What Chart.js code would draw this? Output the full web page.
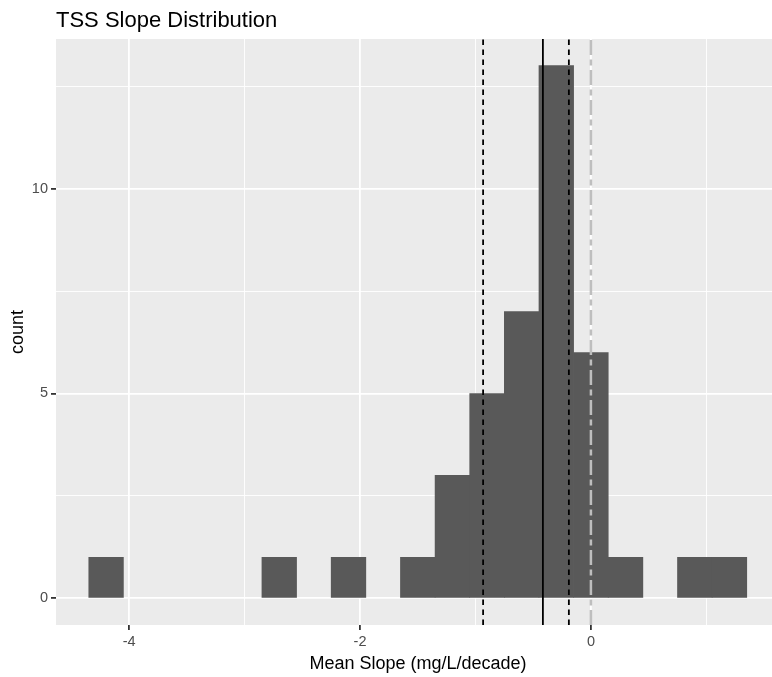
<!DOCTYPE html>
<html>
<head>
<meta charset="utf-8">
<title>TSS Slope Distribution</title>
<script src="https://cdn.jsdelivr.net/npm/chart.js@4.4.1/dist/chart.umd.min.js"></script>
<style>
  html, body { margin: 0; padding: 0; background: #fff; overflow: hidden; }
  #wrap { width: 772px; height: 677px; overflow: hidden; }
</style>
</head>
<body>
<div id="wrap"><canvas id="slopeChart" width="780" height="677"></canvas></div>
<script>
// histogram of mean TSS slopes, bin width 0.3 mg/L/decade
const binMids   = [-4.2, -3.9, -3.6, -3.3, -3.0, -2.7, -2.4, -2.1, -1.8, -1.5, -1.2, -0.9, -0.6, -0.3, 0.0, 0.3, 0.6, 0.9, 1.2];
const binCounts = [1, 0, 0, 0, 0, 1, 0, 1, 0, 1, 3, 5, 7, 13, 6, 1, 0, 1, 1];

// reference lines: mean (solid), interval bounds (dashed), zero (grey dot-dash)
const meanSlope = -0.416;
const ciLower = -0.934;
const ciUpper = -0.191;
const zeroSlope = 0;

// axis limits and ticks
const xMin = -4.634, xMax = 1.638;
const yMin = -0.65, yMax = 13.65;
const xTicks = [-4, -3, -2, -1, 0, 1];
const xMajor = [-4, -2, 0];
const yTicks = [0, 2.5, 5, 7.5, 10, 12.5];
const yMajor = [0, 5, 10];

const FONT = "'Liberation Sans', Arial, sans-serif";

// only non-empty bins get a bar
const histData = [];
for (let i = 0; i < binMids.length; i++) {
    if (binCounts[i] > 0) histData.push({ x: binMids[i], y: binCounts[i] });
}

function vline(value, color, width, dash, order) {
    return {
        type: 'line',
        data: [{ x: value, y: yMin }, { x: value, y: yMax }],
        borderColor: color,
        borderWidth: width,
        borderDash: dash,
        borderCapStyle: 'butt',
        pointRadius: 0,
        fill: false,
        order: order
    };
}

const panelPlugin = {
    id: 'panel',
    beforeDraw(chart) {
        const { ctx, chartArea: a } = chart;
        ctx.save();
        ctx.fillStyle = '#EBEBEB';
        ctx.fillRect(a.left, a.top, a.right - a.left, a.bottom - a.top);
        ctx.restore();
    },
    afterDraw(chart) {
        const { ctx, chartArea: a } = chart;
        ctx.save();
        ctx.fillStyle = '#000000';
        ctx.font = '22px ' + FONT;
        ctx.textAlign = 'left';
        ctx.textBaseline = 'alphabetic';
        ctx.fillText('TSS Slope Distribution', a.left, 26.5);
        ctx.restore();
    }
};

function gridOpts(major) {
    return {
        offset: false,
        color: '#FFFFFF',
        lineWidth: c => (c.tick && major.includes(c.tick.value)) ? 1.8 : 0.9,
        tickColor: c => (c.tick && major.includes(c.tick.value)) ? '#333333' : 'rgba(0,0,0,0)',
        tickWidth: 1.8,
        tickLength: 5,
        drawTicks: true
    };
}

new Chart(document.getElementById('slopeChart'), {
    type: 'bar',
    data: {
        datasets: [
            vline(zeroSlope, '#BEBEBE', 2.5, [15, 4.5, 6, 4.5], 1),
            vline(ciLower, '#000000', 1.8, [5.5, 4.5], 2),
            vline(ciUpper, '#000000', 1.8, [5.5, 4.5], 3),
            vline(meanSlope, '#000000', 1.8, [], 4),
            {
                type: 'bar',
                data: histData,
                backgroundColor: '#595959',
                borderWidth: 0,
                barPercentage: 1.0,
                categoryPercentage: 1.0,
                order: 10
            }
        ]
    },
    options: {
        responsive: false,
        devicePixelRatio: 1,
        animation: false,
        layout: { padding: { top: 39, left: 0, right: 0, bottom: 0 } },
        plugins: {
            legend: { display: false },
            tooltip: { enabled: false },
            title: { display: false }
        },
        scales: {
            x: {
                type: 'linear',
                min: xMin,
                max: xMax,
                offset: false,
                border: { display: false },
                grid: gridOpts(xMajor),
                afterBuildTicks: axis => { axis.ticks = xTicks.map(v => ({ value: v })); },
                afterFit: axis => { axis.height = 52; },
                ticks: {
                    autoSkip: false,
                    maxRotation: 0,
                    padding: 3,
                    color: '#4D4D4D',
                    font: { family: FONT, size: 14.5 },
                    callback: v => xMajor.includes(v) ? String(v) : ''
                },
                title: {
                    display: true,
                    text: 'Mean Slope (mg/L/decade)',
                    color: '#000000',
                    font: { family: FONT, size: 18 },
                    padding: { top: 0, bottom: 2 }
                }
            },
            y: {
                type: 'linear',
                min: yMin,
                max: yMax,
                border: { display: false },
                grid: gridOpts(yMajor),
                afterBuildTicks: axis => { axis.ticks = yTicks.map(v => ({ value: v })); },
                afterFit: axis => { axis.width = 56; },
                ticks: {
                    autoSkip: false,
                    padding: 3,
                    color: '#4D4D4D',
                    font: { family: FONT, size: 14.5 },
                    callback: v => yMajor.includes(v) ? String(v) : ''
                },
                title: {
                    display: true,
                    text: 'count',
                    color: '#000000',
                    font: { family: FONT, size: 18 },
                    padding: { top: 7, bottom: 0 }
                }
            }
        }
    },
    plugins: [panelPlugin]
});
</script>
</body>
</html>
